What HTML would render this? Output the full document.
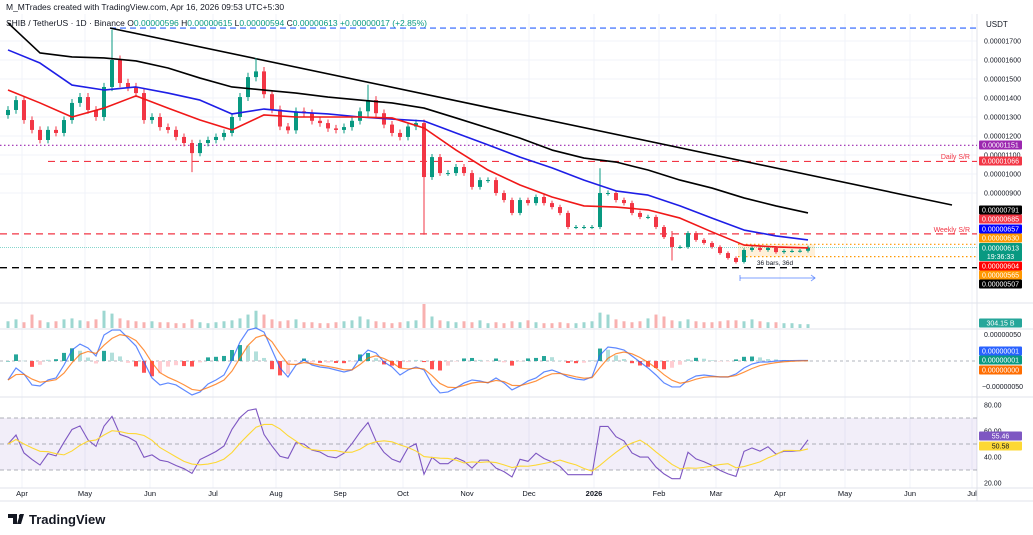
<!DOCTYPE html>
<html><head><meta charset="utf-8"><style>
html,body{margin:0;padding:0;background:#fff;}
svg{display:block;font-family:"Liberation Sans",sans-serif;}
</style></head><body>
<svg id="chart" width="1033" height="535" viewBox="0 0 1033 535" xmlns="http://www.w3.org/2000/svg">
<rect x="0" y="0" width="1033" height="535" fill="#fff"/>
<g id="grid"></g>
<g id="levels"></g>
<g id="candles"></g>
<g id="mas"></g>
<g id="vol"></g>
<g id="macd"></g>
<g id="rsi"></g>
<g id="axes"></g>
<text x="6" y="10" font-size="8.5" fill="#131722">M_MTrades created with TradingView.com, Apr 16, 2026 09:53 UTC+5:30</text>
<text x="6" y="26" font-size="8.5" fill="#131722">SHIB / TetherUS · 1D · Binance  O<tspan fill="#089981">0.00000596</tspan>  H<tspan fill="#089981">0.00000615</tspan>  L<tspan fill="#089981">0.00000594</tspan>  C<tspan fill="#089981">0.00000613</tspan>  <tspan fill="#089981">+0.00000017 (+2.85%)</tspan></text>
<text x="986" y="27" font-size="8" fill="#131722">USDT</text>
<g>
<path d="M8 514 h9 v10 h-4 v-6 h-5 z M20 514 h4 l-3 10 h-4 z" fill="#131722"/>
<circle cx="20.5" cy="516" r="1.6" fill="#131722"/>
<text x="29" y="524" font-size="13" font-weight="bold" fill="#131722">TradingView</text>
</g>
</svg>
<script>
const closes=[1337,1389,1284,1232,1179,1232,1216,1284,1374,1405,1337,1300,1458,1600,1479,1458,1426,1284,1300,1247,1232,1195,1163,1110,1163,1179,1195,1216,1300,1405,1510,1540,1420,1340,1250,1230,1330,1320,1280,1268,1240,1232,1247,1280,1330,1389,1320,1260,1216,1195,1250,1268,984,1089,1005,1005,1037,1005,932,968,968,900,863,795,863,847,879,847,826,795,721,721,721,721,900,900,863,847,795,774,774,721,668,616,616,689,653,637,616,584,558,537,600,611,600,611,589,595,595,596,613];
const spikeIdx=[13,31,45,23,52,74,83];
const spikeHigh=[1760,1610,1470,1180,1280,1030,700];
const spikeLow=[1450,1500,1300,1010,680,850,545];
const volumes=[700,900,600,1400,800,600,700,900,1000,800,700,900,1800,1500,1000,800,700,600,700,600,600,500,500,900,600,500,600,700,800,1000,1400,1800,1400,900,700,800,900,600,600,500,500,600,700,800,1200,900,700,600,500,600,700,800,2500,1200,800,700,600,700,600,800,500,600,500,700,600,800,600,500,500,600,500,500,600,700,1600,1400,900,700,600,700,1000,1400,1200,800,700,900,700,600,600,700,800,800,700,900,700,600,600,500,500,400,400,304];
const macdVals=[-365,-134,-250,-461,-480,-365,-326,-77,211,326,250,96,499,595,595,442,288,-19,-326,-461,-422,-461,-557,-653,-595,-442,-365,-269,19,365,595,634,557,211,-134,-307,-77,19,-77,-115,-134,-173,-211,-173,58,211,154,-19,-115,-269,-173,-115,-173,-442,-614,-595,-518,-422,-365,-384,-422,-326,-422,-557,-480,-384,-326,-211,-173,-230,-307,-346,-365,-307,115,269,250,211,96,-19,-134,-269,-422,-499,-499,-365,-288,-269,-288,-307,-307,-250,-134,-58,-19,-19,0,5,8,9,10];
const ma50=[1442,1374,1300,1347,1411,1347,1284,1232,1311,1300,1300,1300,1295,1242,1126,1021,942,879,832,826,811,768,695,626,616,611];
const ma100=[1653,1584,1468,1442,1458,1426,1389,1316,1342,1326,1316,1300,1289,1279,1216,1153,1089,1032,968,911,889,832,768,705,674,653];
const ma200=[1795,1637,1616,1611,1595,1558,1505,1458,1442,1426,1405,1389,1374,1347,1295,1242,1189,1126,1084,1063,1021,968,926,874,832,795];
const priceTicks=[1700,1600,1500,1400,1300,1200,1100,1000,900];
const monthLabels=["Apr","May","Jun","Jul","Aug","Sep","Oct","Nov","Dec","2026","Feb","Mar","Apr","May","Jun","Jul"];
const monthX=[22,85,150,213,276,340,403,467,529,594,659,716,780,845,910,972];
const rsiTicks=[80,60,40,20];

const NS="http://www.w3.org/2000/svg";
function el(tag,attrs,parent,txt){const e=document.createElementNS(NS,tag);for(const k in attrs)e.setAttribute(k,attrs[k]);if(txt!==undefined)e.textContent=txt;parent.appendChild(e);return e;}
const n=closes.length;
const xAt=i=>8+i*(800/(n-1));
const py=p=>174+(1000-p)*0.19;
const volBase=328, vy=v=>volBase-v*0.0096;
const macdZero=361, my=v=>macdZero-v*0.052;
const ry=r=>444-(r-50)*1.3;
const W=977;
const G=id=>document.getElementById(id);

const grid=G('grid');
monthX.forEach(x=>{const l=el('line',{x1:x,x2:x,y1:14,y2:488,stroke:'#f0f3fa','stroke-width':1},grid);

});
priceTicks.forEach(p=>{const l=el('line',{x1:0,x2:W,y1:py(p),y2:py(p),stroke:'#f0f3fa'},grid);

});
[303,329,397,488].forEach(y=>{const l=el('line',{x1:0,x2:1033,y1:y,y2:y,stroke:'#e0e3eb'},grid);

});
el('line',{x1:W,x2:W,y1:14,y2:501,stroke:'#e0e3eb'},grid);
el('line',{x1:0,x2:1033,y1:501,y2:501,stroke:'#e0e3eb'},grid);

const lv=G('levels');
function hline(p,x1,x2,color,dash,w,name){const l=el('line',{x1:x1,x2:x2,y1:py(p),y2:py(p),stroke:color,'stroke-dasharray':dash,'stroke-width':w},lv);

}
hline(1768,110,W,'#2962ff','6 4',1.2,'ath-dashed-line');
hline(1151,0,W,'#9c27b0','1.5 2.5',1.2,'dotted-level-1151');
hline(1066,48,W,'#f23645','7 5',1.2,'daily-sr-line');
hline(685,0,W,'#f23645','7 5',1.2,'weekly-sr-line');
hline(507,0,W,'#000','7 5',1.4,'support-507-line');
hline(613,0,W,'#5fc9bd','1 1',0.7,'last-price-line');
const box=el('rect',{x:738,y:py(630),width:77,height:py(565)-py(630),fill:'#ff9800','fill-opacity':0.15},lv);


hline(630,738,W,'#ff9800','1.5 2.5',1.2,'range-top-line');
hline(565,738,W,'#ff9800','1.5 2.5',1.2,'range-bottom-line');
el('text',{x:775,y:265,'font-size':6.5,fill:'#131722','text-anchor':'middle'},lv,'36 bars, 36d');
el('line',{x1:740,x2:815,y1:278,y2:278,stroke:'#2962ff','stroke-opacity':0.6},lv);
el('line',{x1:740,x2:740,y1:275,y2:281,stroke:'#2962ff','stroke-opacity':0.6},lv);
el('path',{d:'M811 275 L815 278 L811 281',stroke:'#2962ff','stroke-opacity':0.6,fill:'none'},lv);
el('text',{x:970,y:159,'font-size':7,fill:'#f23645','text-anchor':'end'},lv,'Daily S/R');
el('text',{x:970,y:232,'font-size':7,fill:'#f23645','text-anchor':'end'},lv,'Weekly S/R');
const tl=el('line',{x1:110,y1:28,x2:952,y2:205,stroke:'#000','stroke-width':1.6},lv);



const cg=G('candles');
for(let i=0;i<n;i++){
 const c=closes[i], o=i>0?closes[i-1]:c*0.98;
 let hi=Math.max(o,c)*1.015, lo=Math.min(o,c)*0.985;
 const s=spikeIdx.indexOf(i); if(s>=0){hi=Math.max(hi,spikeHigh[s]);lo=Math.min(lo,spikeLow[s]);}
 const up=c>=o, col=up?'#089981':'#f23645';
 const x=xAt(i);
 const w=el('line',{x1:x,x2:x,y1:py(hi),y2:py(lo),stroke:col,'stroke-width':1},cg);
 
 
 const top=py(Math.max(o,c)), h=Math.max(1,py(Math.min(o,c))-top);
 const b=el('rect',{x:x-2,y:top,width:4,height:h,fill:col},cg);
 
 
}

const mg=G('mas');
function maLine(arr,color,name){const pts=arr.map((v,k)=>xAt(k*4)+','+py(v)).join(' ');
 const l=el('polyline',{points:pts,fill:'none',stroke:color,'stroke-width':1.6,'stroke-linejoin':'round'},mg);
 
 }
maLine(ma200,'#000','ma-200');
maLine(ma100,'#1e1ee6','ma-100');
maLine(ma50,'#f01818','ma-50');

const vg=G('vol');
for(let i=0;i<n;i++){const o=i>0?closes[i-1]:closes[i];const up=closes[i]>=o;
 const r=el('rect',{x:xAt(i)-1.5,y:vy(volumes[i]),width:3,height:volBase-vy(volumes[i]),fill:up?'#26a69a':'#ef5350','fill-opacity':0.45},vg);
 
 }

const mgp=G('macd');
el('line',{x1:0,x2:W,y1:macdZero,y2:macdZero,stroke:'#b2b5be','stroke-dasharray':'3 3'},mgp);
const signal=[];let s0=macdVals[0];
macdVals.forEach((v,i)=>{s0=i===0?v:s0+0.45*(v-s0);signal.push(s0);});
macdVals.forEach((v,i)=>{const h=v-signal[i];const prev=i>0?macdVals[i-1]-signal[i-1]:h;
 const grow=Math.abs(h)>=Math.abs(prev);
 const col=h>=0?(grow?'#26a69a':'#b2dfdb'):(grow?'#ff5252':'#ffcdd2');
 const y=my(Math.max(h,0)), hh=Math.abs(my(h)-macdZero);
 const r=el('rect',{x:xAt(i)-2,y:y,width:4,height:Math.max(hh,0.5),fill:col},mgp);
 
 });
const ml=el('polyline',{points:macdVals.map((v,i)=>xAt(i)+','+my(v)).join(' '),fill:'none',stroke:'#2962ff','stroke-opacity':0.75,'stroke-width':1.2},mgp);


const sl=el('polyline',{points:signal.map((v,i)=>xAt(i)+','+my(v)).join(' '),fill:'none',stroke:'#ff6d00','stroke-opacity':0.75,'stroke-width':1.2},mgp);



const rg=G('rsi');
el('rect',{x:0,y:ry(70),width:W,height:ry(30)-ry(70),fill:'#7e57c2','fill-opacity':0.1},rg);
[70,50,30].forEach(v=>el('line',{x1:0,x2:W,y1:ry(v),y2:ry(v),stroke:'#9598a1','stroke-dasharray':'4 3','stroke-width':0.8},rg));
const rsi=[];let ag=0,al=0;const P=6;
for(let i=0;i<n;i++){const d=i>0?closes[i]-closes[i-1]:0;const g=Math.max(d,0),l=Math.max(-d,0);
 if(i===0){ag=25;al=25;}else{ag=(ag*(P-1)+g)/P;al=(al*(P-1)+l)/P;}
 let r=al===0?100:100-100/(1+ag/al);
 r=50+(r-50)*0.8;
 rsi.push(Math.max(22,Math.min(80,r)));}
const rsiMa=rsi.map((v,i)=>{const a=rsi.slice(Math.max(0,i-5),i+1);return a.reduce((s,x)=>s+x,0)/a.length;});
const rl=el('polyline',{points:rsi.map((v,i)=>xAt(i)+','+ry(v)).join(' '),fill:'none',stroke:'#7e57c2','stroke-width':1.1},rg);


const rml=el('polyline',{points:rsiMa.map((v,i)=>xAt(i)+','+ry(v)).join(' '),fill:'none',stroke:'#fdd835','stroke-width':1.1},rg);



const ax=G('axes');
priceTicks.forEach(p=>{const t=el('text',{x:984,y:py(p)+2.5,'font-size':7,fill:'#131722'},ax,'0.0000'+String(p).padStart(4,'0'));
 
 });
monthLabels.forEach((m,k)=>{const t=el('text',{x:monthX[k],y:496,'font-size':7.5,fill:'#131722','text-anchor':'middle','font-weight':m==='2026'?'bold':'normal'},ax,m);
 
 });
rsiTicks.forEach(r=>{el('text',{x:984,y:ry(r)+2.5,'font-size':7,fill:'#131722'},ax,r.toFixed(2));});
el('text',{x:984,y:337,'font-size':7,fill:'#131722'},ax,'0.00000050');
el('text',{x:982,y:389,'font-size':7,fill:'#131722'},ax,'\u22120.00000050');
function tag(y,h,color,txt,txt2,fg){const r=el('rect',{x:979,y:y-h/2,width:43,height:h,fill:color,rx:1},ax);
 
 
 el('text',{x:1000.5,y:txt2?y-1.5:y+2.5,'font-size':7,fill:fg||'#fff','text-anchor':'middle'},ax,txt);
 if(txt2)el('text',{x:1000.5,y:y+7,'font-size':7,fill:fg||'#fff','text-anchor':'middle'},ax,txt2);}
tag(145,9,'#9c27b0','0.00001151');
tag(161,9,'#f23645','0.00001066');
tag(210,9,'#000','0.00000791');
tag(219,9,'#f23645','0.00000685');
tag(229,9,'#0000ff','0.00000657');
tag(238,9,'#ff9800','0.00000630');
tag(252,18,'#089981','0.00000613','19:36:33');
tag(266,9,'#ff0000','0.00000604');
tag(275,9,'#ff9800','0.00000565');
tag(284,9,'#000','0.00000507');
tag(323,9,'#26a69a','304.15 B');
tag(351,9,'#2962ff','0.00000001');
tag(360,9,'#089981','0.00000001');
tag(370,9,'#ff6d00','0.00000000');
tag(436,9,'#7e57c2','55.46');
tag(446,9,'#fdd835','50.58','', '#131722');
</script>
</body></html>
